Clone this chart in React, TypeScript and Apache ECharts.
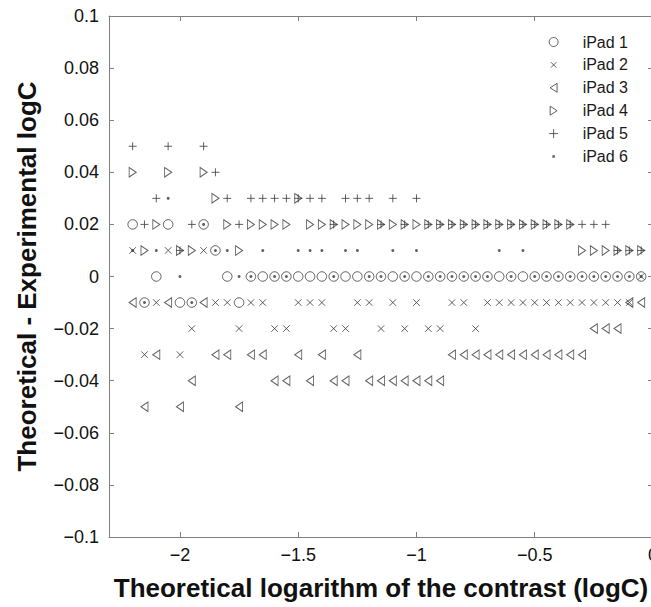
import React, { useEffect, useRef } from 'react';
import * as echarts from 'echarts';

// Theoretical logC values (x)
const contrast = [
  -2.2, -2.15, -2.1, -2.05, -2.0, -1.95, -1.9, -1.85, -1.8, -1.75, -1.7,
  -1.65, -1.6, -1.55, -1.5, -1.45, -1.4, -1.35, -1.3, -1.25, -1.2, -1.15,
  -1.1, -1.05, -1.0, -0.95, -0.9, -0.85, -0.8, -0.75, -0.7, -0.65, -0.6,
  -0.55, -0.5, -0.45, -0.4, -0.35, -0.3, -0.25, -0.2, -0.15, -0.1, -0.05,
];

// Theoretical - Experimental logC (y) per device
const ipad1 = [
  0.02, -0.01, 0, 0.02, -0.01, -0.01, 0.02, 0.01, 0, -0.01, 0,
  0, 0, 0, 0, 0, 0, 0, 0, 0, 0, 0,
  0, 0, 0, 0, 0, 0, 0, 0, 0, 0, 0,
  0, 0, 0, 0, 0, 0, 0, 0, 0, 0, 0,
];
const ipad2 = [
  0.01, -0.03, -0.01, 0.01, -0.03, -0.02, 0.01, -0.01, -0.01, -0.02, -0.01,
  -0.01, -0.02, -0.02, -0.01, -0.01, -0.01, -0.02, -0.02, -0.01, -0.01, -0.02,
  -0.01, -0.02, -0.01, -0.02, -0.02, -0.01, -0.01, -0.02, -0.01, -0.01, -0.01,
  -0.01, -0.01, -0.01, -0.01, -0.01, -0.01, -0.01, -0.01, -0.01, -0.01, 0,
];
const ipad3 = [
  -0.01, -0.05, -0.03, -0.01, -0.05, -0.04, -0.01, -0.03, -0.03, -0.05, -0.03,
  -0.03, -0.04, -0.04, -0.03, -0.04, -0.03, -0.04, -0.04, -0.03, -0.04, -0.04,
  -0.04, -0.04, -0.04, -0.04, -0.04, -0.03, -0.03, -0.03, -0.03, -0.03, -0.03,
  -0.03, -0.03, -0.03, -0.03, -0.03, -0.03, -0.02, -0.02, -0.02, -0.01, -0.01,
];
const ipad4 = [
  0.04, 0.01, 0.02, 0.04, 0.01, 0.01, 0.04, 0.03, 0.02, 0.01, 0.02,
  0.02, 0.02, 0.02, 0.03, 0.02, 0.02, 0.02, 0.02, 0.02, 0.02, 0.02,
  0.02, 0.02, 0.02, 0.02, 0.02, 0.02, 0.02, 0.02, 0.02, 0.02, 0.02,
  0.02, 0.02, 0.02, 0.02, 0.02, 0.01, 0.01, 0.01, 0.01, 0.01, 0.01,
];
const ipad5 = [
  0.05, 0.02, 0.03, 0.05, 0.01, 0.02, 0.05, 0.04, 0.03, 0.02, 0.03,
  0.03, 0.03, 0.03, 0.03, 0.03, 0.03, 0.02, 0.03, 0.03, 0.03, 0.02,
  0.03, 0.02, 0.03, 0.02, 0.02, 0.02, 0.02, 0.02, 0.02, 0.02, 0.02,
  0.02, 0.02, 0.02, 0.02, 0.02, 0.02, 0.02, 0.02, 0.01, 0.01, 0.01,
];
const ipad6 = [
  0.01, -0.01, 0.01, 0.03, 0, -0.01, 0.02, 0.01, 0.01, 0, 0,
  0.01, 0, 0, 0.01, 0.01, 0.01, 0, 0.01, 0.01, 0, 0,
  0.01, 0, 0.01, 0, 0, 0, 0, 0, 0, 0.01, 0,
  0.01, 0, 0, 0, 0, 0, 0, 0, 0, 0, 0,
];

const seriesNames = ['iPad 1', 'iPad 2', 'iPad 3', 'iPad 4', 'iPad 5', 'iPad 6'];
const xTicks = [-2, -1.5, -1, -0.5, 0];

const FONT = '"Liberation Sans", Arial, Helvetica, sans-serif';
const INK = '#3a3a3a';
const AXIS = '#7f7f7f';

const fmt = (v: number) => String(Number(Number(v).toFixed(2))).replace('-', '\u2212');

export default function App() {
  const ref = useRef<HTMLDivElement>(null);

  useEffect(() => {
    document.body.style.margin = '0';
    if (!ref.current) return;
    const chart = echarts.init(ref.current, undefined, { renderer: 'svg' });

    const toPts = (ys: number[]) => contrast.map((x, i) => [x, ys[i]]);

    const hollow = { color: 'none', borderColor: INK, borderWidth: 1 };

    const series: any[] = [
      { name: seriesNames[0], data: toPts(ipad1), symbol: 'circle', symbolSize: 9.5, itemStyle: hollow },
      { name: seriesNames[1], data: toPts(ipad2), symbol: 'path://M0 0 L10 10 M10 0 L0 10', symbolSize: 6.5, itemStyle: hollow },
      { name: seriesNames[2], data: toPts(ipad3), symbol: 'path://M10 0 L0 6.5 L10 13 Z', symbolSize: [7, 9.5], itemStyle: hollow },
      { name: seriesNames[3], data: toPts(ipad4), symbol: 'path://M0 0 L10 6.5 L0 13 Z', symbolSize: [7, 9.5], itemStyle: hollow },
      { name: seriesNames[4], data: toPts(ipad5), symbol: 'path://M5 0 L5 10 M0 5 L10 5', symbolSize: 8, itemStyle: hollow },
      { name: seriesNames[5], data: toPts(ipad6), symbol: 'circle', symbolSize: 3, itemStyle: { color: INK, borderWidth: 0 } },
    ].map((s) => ({ ...s, type: 'scatter', xAxisIndex: 0, yAxisIndex: 0, z: 3 }));

    const tickCommon = { show: true, inside: true, length: 5, lineStyle: { color: AXIS, width: 1 } };
    const lineCommon = { show: true, onZero: false, lineStyle: { color: AXIS, width: 1 } };

    chart.setOption({
      animation: false,
      backgroundColor: '#fff',
      grid: { left: 109, right: -2, top: 16, bottom: 70, containLabel: false, outerBoundsMode: 'none' },
      legend: {
        orient: 'vertical',
        right: 18,
        top: 29,
        itemWidth: 48,
        itemHeight: 9,
        itemGap: 6.9,
        symbolKeepAspect: true,
        itemStyle: { borderWidth: 1 },
        textStyle: { fontSize: 16, lineHeight: 16, color: '#1a1a1a', fontFamily: FONT },
        data: [
          { name: 'iPad 1' },
          { name: 'iPad 2', icon: 'path://M0 0 M10 10 M2 2 L8 8 M8 2 L2 8' },
          { name: 'iPad 3' },
          { name: 'iPad 4' },
          { name: 'iPad 5' },
          { name: 'iPad 6', icon: 'path://M0 0 M10 10 M3.6 3.6 L6.4 3.6 L6.4 6.4 L3.6 6.4 Z' },
        ],
      },
      xAxis: [
        {
          type: 'value', min: -2.3, max: 0, position: 'bottom',
          axisLine: lineCommon,
          axisTick: { ...tickCommon, customValues: xTicks },
          axisLabel: { customValues: xTicks, formatter: fmt, fontSize: 18, color: '#111', margin: 9, fontFamily: FONT },
          splitLine: { show: false },
          name: 'Theoretical logarithm of the contrast (logC)',
          nameLocation: 'middle',
          nameGap: 38,
          nameTextStyle: { fontSize: 26, fontWeight: 'bold', color: '#111', fontFamily: FONT },
        },
        {
          type: 'value', min: -2.3, max: 0, position: 'top',
          axisLine: lineCommon,
          axisTick: { ...tickCommon, customValues: xTicks },
          axisLabel: { show: false, customValues: xTicks },
          splitLine: { show: false },
        },
      ],
      yAxis: [
        {
          type: 'value', min: -0.1, max: 0.1, interval: 0.02, position: 'left',
          axisLine: lineCommon,
          axisTick: tickCommon,
          axisLabel: { formatter: fmt, fontSize: 18, color: '#111', margin: 10, fontFamily: FONT },
          splitLine: { show: false },
          name: 'Theoretical - Experimental logC',
          nameLocation: 'middle',
          nameGap: 69,
          nameTextStyle: { fontSize: 26, fontWeight: 'bold', color: '#111', fontFamily: FONT },
        },
        {
          type: 'value', min: -0.1, max: 0.1, interval: 0.02, position: 'right',
          axisLine: lineCommon,
          axisTick: tickCommon,
          axisLabel: { show: false },
          splitLine: { show: false },
        },
      ],
      series,
    });

    return () => chart.dispose();
  }, []);

  return <div ref={ref} style={{ width: 651, height: 607 }} />;
}
